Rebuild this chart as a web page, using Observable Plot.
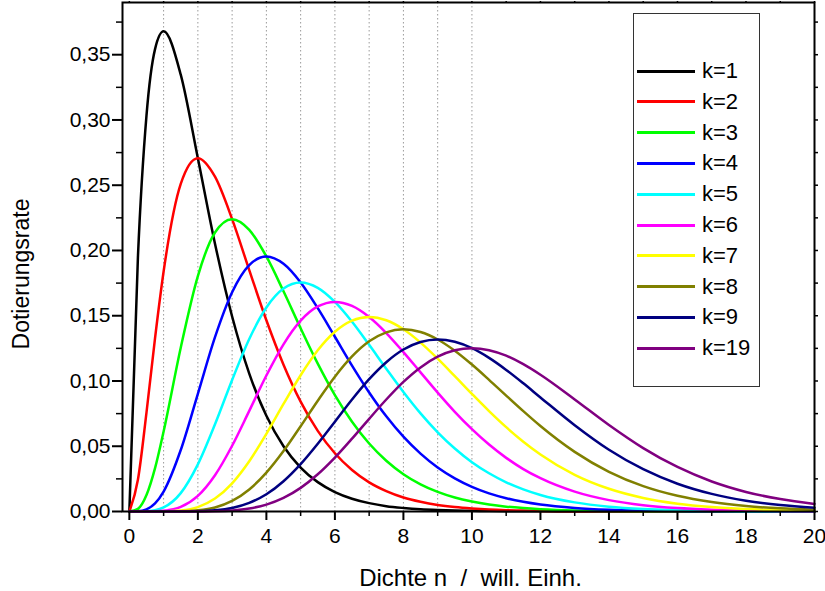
<!DOCTYPE html>
<html>
<head>
<meta charset="utf-8">
<script src="https://cdn.jsdelivr.net/npm/d3@7"></script>
<script src="https://cdn.jsdelivr.net/npm/@observablehq/plot@0.6"></script>
<style>
  html, body { margin: 0; padding: 0; background: #fff; }
  #wrap { position: relative; width: 825px; height: 591px; font-family: "Liberation Sans", Arial, sans-serif; }
  #legend { position: absolute; left: 633px; top: 13px; width: 127px; height: 374px; border: 1.5px solid #333; background: #fff; box-sizing: border-box; }
  .entry { position: absolute; left: 0; height: 30px; width: 100%; }
  .swatch { position: absolute; left: 3px; top: 13.5px; width: 58px; height: 3px; }
  .lab { position: absolute; left: 68px; top: 0; line-height: 30px; font-size: 22px; color: #000; white-space: nowrap; }
</style>
</head>
<body>
<div id="wrap"></div>
<script>
// Dichte n (sample positions along the x axis)
const density = [0, 0.25, 0.5, 0.75, 1, 1.5, 2, 2.5, 3, 3.5, 4, 4.5, 5, 5.5, 6, 6.5, 7, 7.5, 8, 8.5,
  9, 9.5, 10, 10.5, 11, 11.5, 12, 13, 14, 15, 16, 17, 18, 19, 20];

// Dotierungsrate for each curve, at the positions above
const k1 = [0, .1947, .3033, .3543, .3679, .3347, .2707, .2052, .1494, .1057, .0733, .0500, .0337, .0225, .0149, .0098, .0064, .0041, .0027, .0017,
  .0011, .0007, .0005, .0003, .0002, .0001, .0001, 0, 0, 0, 0, 0, 0, 0, 0];
const k2 = [0, .0243, .0758, .1329, .1839, .2510, .2707, .2565, .2240, .1850, .1465, .1125, .0842, .0618, .0446, .0318, .0223, .0156, .0107, .0074,
  .0050, .0034, .0023, .0015, .0010, .0007, .0004, .0002, .0001, 0, 0, 0, 0, 0, 0];
const k3 = [0, .0020, .0126, .0332, .0613, .1255, .1804, .2138, .2240, .2158, .1954, .1687, .1404, .1133, .0892, .0688, .0521, .0389, .0286, .0208,
  .0150, .0107, .0076, .0053, .0037, .0026, .0018, .0008, .0004, .0002, .0001, 0, 0, 0, 0];
const k4 = [0, .0001, .0016, .0062, .0153, .0471, .0902, .1336, .1680, .1888, .1954, .1898, .1755, .1558, .1339, .1118, .0912, .0729, .0573, .0443,
  .0337, .0254, .0189, .0139, .0102, .0074, .0053, .0027, .0013, .0006, .0003, .0001, .0001, 0, 0];
const k5 = [0, 0, .0002, .0009, .0031, .0141, .0361, .0668, .1008, .1322, .1563, .1708, .1755, .1714, .1606, .1454, .1277, .1094, .0916, .0752,
  .0607, .0483, .0378, .0293, .0224, .0170, .0127, .0070, .0037, .0019, .0010, .0005, .0002, .0001, .0001];
const k6 = [0, 0, 0, .0001, .0005, .0035, .0120, .0278, .0504, .0771, .1042, .1281, .1462, .1571, .1606, .1575, .1490, .1367, .1221, .1066,
  .0911, .0764, .0631, .0513, .0411, .0325, .0255, .0152, .0087, .0048, .0026, .0014, .0007, .0004, .0002];
const k7 = [0, 0, 0, 0, .0001, .0008, .0034, .0099, .0216, .0385, .0595, .0824, .1044, .1235, .1377, .1462, .1490, .1465, .1396, .1294,
  .1171, .1037, .0901, .0769, .0646, .0535, .0437, .0281, .0174, .0104, .0060, .0034, .0019, .0010, .0005];
const k8 = [0, 0, 0, 0, 0, .0001, .0009, .0031, .0081, .0169, .0298, .0463, .0653, .0849, .1033, .1188, .1304, .1373, .1396, .1375,
  .1318, .1232, .1126, .1009, .0888, .0769, .0655, .0457, .0304, .0194, .0120, .0072, .0042, .0024, .0013];
const k9 = [0, 0, 0, 0, 0, 0, .0002, .0009, .0027, .0066, .0132, .0232, .0363, .0519, .0688, .0858, .1014, .1144, .1241, .1299,
  .1318, .1300, .1251, .1177, .1085, .0982, .0874, .0661, .0473, .0324, .0213, .0135, .0083, .0050, .0029];
const k19 = [0, 0, 0, 0, 0, 0, 0, .0002, .0008, .0023, .0053, .0104, .0181, .0285, .0413, .0558, .0710, .0858, .0993, .1104,
  .1186, .1235, .1251, .1236, .1194, .1129, .1048, .0859, .0663, .0486, .0341, .0230, .0150, .0095, .0058];

const seriesNames = ["k=1", "k=2", "k=3", "k=4", "k=5", "k=6", "k=7", "k=8", "k=9", "k=19"];
const seriesValues = [k1, k2, k3, k4, k5, k6, k7, k8, k9, k19];
const seriesColors = ["#000000", "#ff0000", "#00ff00", "#0000ff", "#00ffff", "#ff00ff", "#ffff00", "#808000", "#000080", "#800080"];

// Axis ticks and guides
const xMajor = [0, 2, 4, 6, 8, 10, 12, 14, 16, 18, 20];
const xMinor = [1, 3, 5, 7, 9, 11, 13, 15, 17, 19];
const xAll = d3.range(0, 21, 1);
const yMajor = [0, 0.05, 0.10, 0.15, 0.20, 0.25, 0.30, 0.35];
const yMinor = [0.025, 0.075, 0.125, 0.175, 0.225, 0.275, 0.325, 0.375];
const gridN = [1, 2, 3, 4, 5, 6, 7, 8, 9, 10];

const xTitle = "Dichte n\u00a0\u00a0/\u00a0\u00a0will. Einh.";
const yTitle = "Dotierungsrate";

const comma = d => d.toFixed(2).replace(".", ",");

const curves = seriesValues.map((vals, i) =>
  Plot.line(density.map((n, j) => ({n, v: vals[j]})), {
    x: "n", y: "v", stroke: seriesColors[i], strokeWidth: 2.5, curve: "monotone-x"
  })
);

const chart = Plot.plot({
  width: 825,
  height: 591,
  marginTop: 2,
  marginRight: 11,
  marginBottom: 80,
  marginLeft: 122,
  x: {domain: [-0.2, 20], label: null},
  y: {domain: [0, 0.39], label: null},
  style: {fontFamily: "'Liberation Sans', Arial, sans-serif", background: "#fff", color: "#000", overflow: "visible"},
  marks: [
    Plot.ruleX(gridN, {stroke: "#9a9a9a", strokeWidth: 1, strokeDasharray: "1.5,2.5"}),
    ...curves,
    Plot.frame({stroke: "#000", strokeWidth: 2}),
    Plot.axisY({ticks: yMajor, tickSize: 10, tickPadding: 2, strokeWidth: 2, tickFormat: comma, fontSize: 21, label: null}),
    Plot.axisY({ticks: yMinor, tickSize: 6, strokeWidth: 1.5, fill: "none", label: null}),
    Plot.axisY({anchor: "right", ticks: [...yMajor, ...yMinor], tickSize: 3, strokeWidth: 1.5, fill: "none", label: null}),
    Plot.axisX({ticks: xMajor, tickSize: 9, tickPadding: 8, strokeWidth: 2, tickFormat: d => String(d), fontSize: 21, label: null}),
    Plot.axisX({ticks: xMinor, tickSize: 5, strokeWidth: 1.5, fill: "none", label: null}),
    Plot.axisX({anchor: "top", ticks: xAll, tickSize: 2, strokeWidth: 1.5, fill: "none", label: null}),
    Plot.text([xTitle], {frameAnchor: "bottom", textAnchor: "middle", lineAnchor: "middle", dx: 2, dy: 67, fontSize: 24, text: d => d}),
    Plot.text([yTitle], {frameAnchor: "left", rotate: -90, textAnchor: "middle", lineAnchor: "middle", dx: -101, dy: 17, fontSize: 23, text: d => d})
  ]
});

const wrap = document.getElementById("wrap");
wrap.appendChild(chart);

// Legend box inside the plot area
const legend = document.createElement("div");
legend.id = "legend";
seriesNames.forEach((name, i) => {
  const e = document.createElement("div");
  e.className = "entry";
  e.style.top = (42 + i * 30.8) + "px";
  const sw = document.createElement("div");
  sw.className = "swatch";
  sw.style.background = seriesColors[i];
  const lab = document.createElement("span");
  lab.className = "lab";
  lab.textContent = name;
  e.appendChild(sw);
  e.appendChild(lab);
  legend.appendChild(e);
});
wrap.appendChild(legend);
</script>
</body>
</html>
